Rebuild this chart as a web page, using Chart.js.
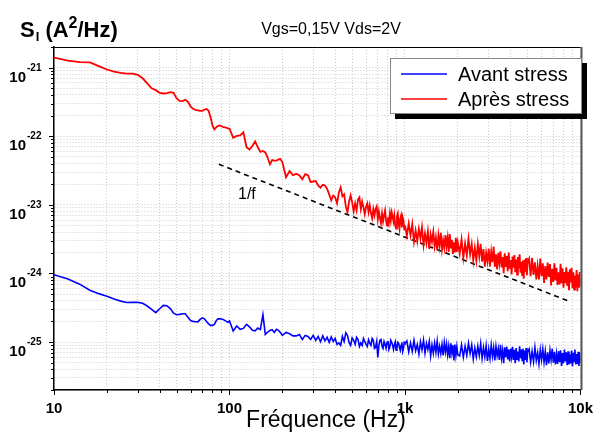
<!DOCTYPE html>
<html>
<head>
<meta charset="utf-8">
<script src="https://cdn.jsdelivr.net/npm/chart.js@4.4.1/dist/chart.umd.min.js"></script>
<style>
  html, body { margin: 0; padding: 0; background: #fff; }
  #wrap { width: 603px; height: 435px; }
</style>
</head>
<body>
<div id="wrap"><canvas id="psd" width="603" height="435"></canvas></div>
<script>
// Fréquences (Hz) communes aux deux spectres
const freq = [
  10, 12, 14, 16, 18, 20, 22, 24, 26, 28, 30,
  32, 34, 36, 38, 40, 42, 44, 46, 48, 50, 52, 54, 56, 58, 60, 62, 64, 66, 68, 70,
  72, 74, 76, 78, 80, 82, 84, 86, 88, 90, 92, 94, 96, 98, 100,
  105, 110, 115, 120, 125, 130, 135, 140, 145, 150, 155, 160, 165, 170, 175, 180, 185, 190, 195, 200,
  210, 220, 230, 240, 250, 260, 270, 280, 290, 300, 310, 320, 330, 340, 350, 360, 370, 380, 390, 400,
  410, 420, 430, 440, 450, 460, 470, 480, 490, 500, 510, 520, 530, 540, 550, 560, 570, 580, 590, 600,
  610, 620, 630, 640, 650, 660, 670, 680, 690, 700, 710, 720, 730, 740, 750, 760, 770, 780, 790, 800,
  810, 820, 830, 840, 850, 860, 870, 880, 890, 900, 910, 920, 930, 940, 950, 960, 970, 980, 990, 1000,
  1025, 1050, 1075, 1100, 1125, 1150, 1175, 1200, 1225, 1250, 1275, 1300, 1325, 1350, 1375, 1400,
  1425, 1450, 1475, 1500, 1525, 1550, 1575, 1600, 1625, 1650, 1675, 1700, 1725, 1750, 1775, 1800,
  1825, 1850, 1875, 1900, 1925, 1950, 1975, 2000,
  2050, 2100, 2150, 2200, 2250, 2300, 2350, 2400, 2450, 2500, 2550, 2600, 2650, 2700, 2750, 2800,
  2850, 2900, 2950, 3000, 3050, 3100, 3150, 3200, 3250, 3300, 3350, 3400, 3450, 3500, 3550, 3600,
  3650, 3700, 3750, 3800, 3850, 3900, 3950, 4000, 4050, 4100, 4150, 4200, 4250, 4300, 4350, 4400,
  4450, 4500, 4550, 4600, 4650, 4700, 4750, 4800, 4850, 4900, 4950, 5000,
  5100, 5200, 5300, 5400, 5500, 5600, 5700, 5800, 5900, 6000, 6100, 6200, 6300, 6400, 6500, 6600,
  6700, 6800, 6900, 7000, 7100, 7200, 7300, 7400, 7500, 7600, 7700, 7800, 7900, 8000, 8100, 8200,
  8300, 8400, 8500, 8600, 8700, 8800, 8900, 9000, 9100, 9200, 9300, 9400, 9500, 9600, 9700, 9800,
  9900, 10000
];

// S_I (A²/Hz) avant stress
const avantStress = [
  9.6e-25, 8.3e-25, 6.98e-25, 5.69e-25, 5.08e-25, 4.67e-25, 4.24e-25, 3.95e-25, 3.77e-25, 3.80e-25, 3.79e-25,
  3.68e-25, 3.35e-25, 2.99e-25, 2.69e-25, 3.06e-25, 3.43e-25, 3.39e-25, 3.08e-25, 2.64e-25, 2.50e-25,
  2.53e-25, 2.58e-25, 2.58e-25, 2.29e-25, 2.06e-25, 2.00e-25, 1.98e-25, 1.97e-25, 2.14e-25, 2.25e-25,
  2.18e-25, 2.00e-25, 1.84e-25, 1.75e-25, 1.75e-25, 1.81e-25, 2.04e-25, 2.18e-25, 2.19e-25, 2.17e-25,
  2.14e-25, 2.07e-25, 2.00e-25, 1.94e-25, 2.04e-25,
  1.45e-25, 1.72e-25, 1.53e-25, 1.58e-25, 1.81e-25, 1.67e-25, 1.48e-25, 1.46e-25, 1.60e-25, 1.52e-25,
  2.51e-25, 1.29e-25, 1.40e-25, 1.48e-25, 1.51e-25, 1.38e-25, 1.53e-25, 1.48e-25, 1.38e-25, 1.25e-25,
  1.38e-25, 1.32e-25, 1.23e-25, 1.23e-25, 1.29e-25, 1.09e-25, 1.25e-25, 1.21e-25, 1.09e-25, 1.25e-25,
  1.06e-25, 1.21e-25, 1.01e-25, 1.23e-25, 1.04e-25, 1.17e-25, 9.9e-26, 1.19e-25, 1.02e-25, 1.13e-25,
  9.25e-26, 9.7e-26, 8.95e-26, 1.21e-25, 1.02e-25, 1.36e-25, 1.25e-25, 9.9e-26, 8.95e-26, 1.15e-25,
  1.06e-25, 9.25e-26, 1.17e-25, 1.09e-25, 8.65e-26, 9.7e-26, 8.95e-26, 1.13e-25, 1.02e-25, 9.25e-26,
  8.65e-26, 1.08e-25, 9.6e-26, 8.95e-26, 1.13e-25, 1.06e-25, 8.1e-26, 8.4e-26, 1.02e-25, 5.98e-26,
  8.95e-26, 1.06e-25, 1.09e-25, 8.65e-26, 8.1e-26, 1.02e-25, 9.25e-26, 8.1e-26, 9.9e-26, 1.04e-25,
  7.8e-26, 8.5e-26, 1.06e-25, 9.9e-26, 8.95e-26, 7.8e-26, 9.25e-26, 1.01e-25, 7.6e-26, 8.4e-26,
  9.9e-26, 9.6e-26, 8.4e-26, 7.6e-26, 8.95e-26, 9.9e-26, 7.3e-26, 8.1e-26, 9.9e-26, 9.6e-26,
  1.04e-25, 7.2e-26, 9.7e-26, 7.3e-26, 1.06e-25, 7.5e-26, 9.2e-26, 6.7e-26, 1.01e-25, 7.7e-26,
  1.07e-25, 6.9e-26, 9.6e-26, 7.8e-26, 1.02e-25, 6.3e-26, 9.1e-26, 6.9e-26, 9.7e-26, 7.1e-26,
  1.03e-25, 6.7e-26, 8.7e-26, 6.8e-26, 9.2e-26, 6.4e-26, 9.8e-26, 7.2e-26, 9.4e-26, 6.5e-26,
  8.7e-26, 5.8e-26, 9.6e-26, 6.9e-26, 9.0e-26, 5.4e-26, 9.2e-26, 6.4e-26, 8.6e-26, 6.5e-26,
  6.3e-26, 9.1e-26, 6.0e-26, 8.7e-26, 6.4e-26, 9.6e-26, 6.8e-26, 9.1e-26, 5.7e-26, 8.2e-26,
  6.1e-26, 8.7e-26, 6.4e-26, 9.5e-26, 5.8e-26, 8.3e-26, 6.1e-26, 8.8e-26, 5.3e-26, 7.9e-26,
  5.8e-26, 9.0e-26, 6.2e-26, 8.3e-26, 5.4e-26, 8.6e-26, 6.3e-26, 8.0e-26, 5.5e-26, 9.1e-26,
  5.8e-26, 7.6e-26, 4.9e-26, 8.4e-26, 6.0e-26, 8.6e-26, 5.6e-26, 7.8e-26, 5.2e-26, 8.0e-26,
  6.1e-26, 8.5e-26, 5.5e-26, 7.7e-26, 4.9e-26, 8.2e-26, 5.6e-26, 7.3e-26, 5.2e-26, 8.7e-26,
  5.8e-26, 7.8e-26, 5.4e-26, 8.0e-26, 4.7e-26, 7.5e-26, 5.5e-26, 8.2e-26, 5.1e-26, 7.2e-26,
  7.9e-26, 5.1e-26, 7.3e-26, 5.2e-26, 8.3e-26, 5.4e-26, 7.0e-26, 4.8e-26, 7.7e-26, 5.5e-26,
  7.9e-26, 5.1e-26, 7.3e-26, 4.6e-26, 7.1e-26, 4.9e-26, 7.5e-26, 5.5e-26, 8.0e-26, 5.0e-26,
  7.2e-26, 4.7e-26, 6.7e-26, 4.8e-26, 7.4e-26, 5.1e-26, 7.6e-26, 4.5e-26, 6.9e-26, 4.9e-26,
  7.8e-26, 5.2e-26, 7.1e-26, 4.6e-26, 7.3e-26, 4.7e-26, 6.6e-26, 4.9e-26, 7.5e-26, 4.4e-26,
  7.0e-26, 5.2e-26, 7.8e-26, 4.7e-26, 6.7e-26, 4.8e-26, 7.2e-26, 4.5e-26, 7.0e-26, 5.0e-26
];

// S_I (A²/Hz) après stress
const apresStress = [
  1.40e-21, 1.27e-21, 1.20e-21, 1.19e-21, 1.05e-21, 9.4e-22, 8.75e-22, 8.4e-22, 8.2e-22, 8.2e-22, 7.85e-22,
  7.0e-22, 5.9e-22, 5.0e-22, 4.7e-22, 4.3e-22, 4.2e-22, 4.25e-22, 4.4e-22, 4.3e-22, 3.56e-22,
  3.28e-22, 3.25e-22, 3.40e-22, 3.17e-22, 2.73e-22, 2.51e-22, 2.43e-22, 2.39e-22, 2.35e-22, 2.35e-22,
  2.45e-22, 2.50e-22, 2.35e-22, 1.89e-22, 1.44e-22, 1.26e-22, 1.35e-22, 1.42e-22, 1.44e-22, 1.40e-22,
  1.37e-22, 1.35e-22, 1.33e-22, 1.30e-22, 1.29e-22,
  9.5e-23, 1.01e-22, 1.03e-22, 1.14e-22, 6.9e-23, 6.4e-23, 7.2e-23, 8.4e-23, 6.9e-23, 5.9e-23,
  6.1e-23, 5.8e-23, 4.9e-23, 3.9e-23, 4.5e-23, 4.4e-23, 4.4e-23, 4.6e-23, 4.65e-23, 4.2e-23,
  2.52e-23, 3.1e-23, 2.7e-23, 2.83e-23, 2.7e-23, 2.35e-23, 2.8e-23, 2.7e-23, 2.15e-23, 2.19e-23,
  2.22e-23, 1.92e-23, 1.78e-23, 1.96e-23, 1.92e-23, 1.71e-23, 1.42e-23, 1.16e-23, 1.37e-23, 1.29e-23,
  1.05e-23, 1.52e-23, 1.80e-23, 1.33e-23, 1.42e-23, 9.5e-24, 7.8e-24, 1.11e-23, 1.37e-23, 1.09e-23,
  8.05e-24, 1.05e-23, 8.3e-24, 1.20e-23, 1.29e-23, 8.7e-24, 1.12e-23, 9.2e-24, 7.3e-24, 9.35e-24,
  1.05e-23, 7.8e-24, 9.8e-24, 7.6e-24, 6.35e-24, 8.6e-24, 7.0e-24, 8.7e-24, 9.5e-24, 6.15e-24,
  8.05e-24, 6.45e-24, 5.4e-24, 7.5e-24, 5.75e-24, 7.0e-24, 8.3e-24, 5.95e-24, 5.0e-24, 6.6e-24,
  5.55e-24, 7.5e-24, 5.95e-24, 7.8e-24, 6.8e-24, 5.75e-24, 7.0e-24, 5.0e-24, 4.5e-24, 6.8e-24,
  7.5e-24, 5.4e-24, 4.5e-24, 6.35e-24, 7.0e-24, 4.7e-24, 6.6e-24, 5.95e-24, 4.4e-24, 5.0e-24,
  3.55e-24, 5.34e-24, 3.60e-24, 5.25e-24, 2.90e-24, 4.22e-24, 2.94e-24, 4.45e-24, 3.22e-24, 4.71e-24,
  2.60e-24, 3.81e-24, 2.76e-24, 4.09e-24, 2.27e-24, 3.71e-24, 2.91e-24, 4.03e-24, 2.49e-24, 3.33e-24,
  2.20e-24, 3.60e-24, 2.54e-24, 3.91e-24, 2.25e-24, 3.03e-24, 2.36e-24, 3.62e-24, 2.49e-24, 3.33e-24,
  2.06e-24, 3.74e-24, 2.32e-24, 3.10e-24, 1.92e-24, 2.85e-24, 2.02e-24, 3.32e-24, 2.06e-24, 2.85e-24,
  1.95e-24, 3.14e-24, 1.69e-24, 2.73e-24, 1.85e-24, 3.21e-24, 1.90e-24, 2.69e-24, 1.54e-24, 2.35e-24,
  1.55e-24, 2.68e-24, 1.76e-24, 2.69e-24, 1.49e-24, 2.26e-24, 1.26e-24, 1.99e-24, 1.50e-24, 2.28e-24,
  1.27e-24, 2.07e-24, 1.46e-24, 2.47e-24, 1.25e-24, 1.90e-24, 1.14e-24, 2.00e-24, 1.42e-24, 2.10e-24,
  1.22e-24, 1.74e-24, 1.01e-24, 1.96e-24, 1.25e-24, 1.80e-24, 1.08e-24, 2.01e-24, 1.17e-24, 1.57e-24,
  9.7e-25, 1.76e-24, 1.21e-24, 1.85e-24, 1.04e-24, 1.60e-24, 9.6e-25, 1.74e-24, 1.19e-24, 1.90e-24,
  1.03e-24, 1.48e-24, 9.5e-25, 1.55e-24, 8.4e-25, 1.59e-24, 1.06e-24, 1.68e-24, 9.4e-25, 1.44e-24,
  1.64e-24, 9.1e-25, 1.69e-24, 9.5e-25, 1.45e-24, 8.2e-25, 1.28e-24, 8.2e-25, 1.65e-24, 9.1e-25,
  1.40e-24, 7.3e-25, 1.28e-24, 8.2e-25, 1.44e-24, 8.9e-25, 1.37e-24, 6.7e-25, 1.17e-24, 7.5e-25,
  1.40e-24, 7.9e-25, 1.21e-24, 6.8e-25, 1.04e-24, 6.9e-25, 1.38e-24, 7.2e-25, 1.19e-24, 6.2e-25,
  1.05e-24, 7.2e-25, 1.23e-24, 6.6e-25, 1.06e-24, 5.7e-25, 1.15e-24, 7.4e-25, 1.21e-24, 6.1e-25,
  1.04e-24, 5.8e-25, 9.3e-25, 6.2e-25, 1.12e-24, 5.5e-25, 9.6e-25, 6.2e-25, 1.05e-24, 6.5e-25
];

// droite de pente 1/f
const penteF = [87, 8800];
const penteS = [3.9e-23, 3.85e-25];

const xTickText = { 10: '10', 100: '100', 1000: '1k', 10000: '10k' };

const FONT = "'Liberation Sans', Arial, Helvetica, sans-serif";

function isDecade(v) { const e = Math.log10(v); return Math.abs(e - Math.round(e)) < 1e-6; }
function keepWholeMantissa(scale) {
  scale.ticks = scale.ticks.filter(t => {
    const m = t.value / Math.pow(10, Math.floor(Math.log10(t.value) + 1e-9));
    return Math.abs(m - Math.round(m)) < 1e-6;
  });
}

const decor = {
  id: 'decor',
  afterDraw(chart) {
    const { ctx, chartArea: a, scales: { x, y } } = chart;
    ctx.save();

    // graduations (décades plus longues)
    ctx.strokeStyle = '#000'; ctx.lineWidth = 1;
    ctx.beginPath();
    x.ticks.forEach(t => {
      const px = Math.round(x.getPixelForValue(t.value)) + 0.5;
      ctx.moveTo(px, a.bottom); ctx.lineTo(px, a.bottom + (isDecade(t.value) ? 5 : 3));
    });
    y.ticks.forEach(t => {
      const py = Math.round(y.getPixelForValue(t.value)) + 0.5;
      ctx.moveTo(a.left, py); ctx.lineTo(a.left - (isDecade(t.value) ? 5 : 3), py);
    });
    ctx.stroke();

    // cadre haut / droite
    ctx.beginPath(); ctx.moveTo(a.left, a.top + 0.5); ctx.lineTo(a.right, a.top + 0.5); ctx.stroke();
    ctx.strokeStyle = '#555'; ctx.lineWidth = 2;
    ctx.beginPath(); ctx.moveTo(a.right + 1, a.top); ctx.lineTo(a.right + 1, a.bottom); ctx.stroke();

    // étiquettes y : 10^n
    ctx.fillStyle = '#000';
    y.ticks.filter(t => isDecade(t.value)).forEach(t => {
      const py = y.getPixelForValue(t.value);
      const ex = Math.round(Math.log10(t.value));
      ctx.font = 'bold 15px ' + FONT; ctx.textAlign = 'right'; ctx.textBaseline = 'alphabetic';
      ctx.fillText('10', 26, py + 14);
      ctx.font = 'bold 10px ' + FONT; ctx.textAlign = 'left';
      ctx.fillText(String(ex), 27, py + 3);
    });

    // titre axe y : S_I (A²/Hz)
    let cx = 20;
    const seg = (txt, size, base) => { ctx.font = 'bold ' + size + 'px ' + FONT; ctx.fillText(txt, cx, base); cx += ctx.measureText(txt).width; };
    ctx.textAlign = 'left';
    seg('S', 22, 37); cx += 1; seg('I', 13, 41); seg(' (A', 22, 37); seg('2', 16, 28); seg('/Hz)', 22, 37);

    // conditions de polarisation
    ctx.font = '16px ' + FONT; ctx.textAlign = 'center';
    ctx.fillText('Vgs=0,15V Vds=2V', 331, 34);

    // titre axe x
    ctx.font = '23px ' + FONT;
    ctx.fillText('Fréquence (Hz)', 326, 427);

    // annotation 1/f
    ctx.font = '16px ' + FONT; ctx.textAlign = 'left';
    ctx.fillText('1/f', 238, 199);

    // légende
    const lx = 390, ly = 58, lw = 192, lh = 56;
    ctx.fillStyle = '#000'; ctx.fillRect(lx + 5, ly + 5, lw, lh);
    ctx.fillStyle = '#fff'; ctx.fillRect(lx, ly, lw, lh);
    ctx.strokeStyle = '#888'; ctx.lineWidth = 1; ctx.strokeRect(lx + 0.5, ly + 0.5, lw - 1, lh - 1);
    chart.data.datasets.slice(0, 2).forEach((ds, i) => {
      const yy = ly + 16 + i * 25;
      ctx.strokeStyle = ds.borderColor; ctx.lineWidth = 1.5;
      ctx.beginPath(); ctx.moveTo(401, yy); ctx.lineTo(447, yy); ctx.stroke();
      ctx.fillStyle = '#000'; ctx.font = '20px ' + FONT; ctx.textAlign = 'left';
      ctx.fillText(ds.label, 458, yy + 7);
    });
    ctx.restore();
  }
};

new Chart(document.getElementById('psd'), {
  type: 'line',
  data: {
    datasets: [
      { label: 'Avant stress', data: freq.map((f, i) => ({ x: f, y: avantStress[i] })),
        borderColor: '#0000ff', borderWidth: 1.6, pointRadius: 0, tension: 0 },
      { label: 'Après stress', data: freq.map((f, i) => ({ x: f, y: apresStress[i] })),
        borderColor: '#ff0000', borderWidth: 1.8, pointRadius: 0, tension: 0 },
      { label: '1/f', data: penteF.map((f, i) => ({ x: f, y: penteS[i] })),
        borderColor: '#000', borderWidth: 1.6, borderDash: [5, 4], pointRadius: 0 }
    ]
  },
  options: {
    responsive: false, animation: false, devicePixelRatio: 1,
    layout: { padding: { top: 47, right: 14, left: 0, bottom: 0 } },
    plugins: { legend: { display: false }, tooltip: { enabled: false } },
    scales: {
      x: {
        type: 'logarithmic', min: 10, max: 10000,
        afterFit: s => { s.height = 45; },
        afterBuildTicks: keepWholeMantissa,
        grid: { color: '#cccccc', lineWidth: 1, drawTicks: false },
        border: { color: '#000', width: 1.5, dash: [1, 2] },
        ticks: {
          autoSkip: false, maxRotation: 0, padding: 10, color: '#000',
          font: { family: FONT, size: 15, weight: 'bold' },
          callback: v => xTickText[Math.round(v)] || ''
        }
      },
      y: {
        type: 'logarithmic', min: 2e-26, max: 2e-21,
        afterFit: s => { s.width = 54; },
        afterBuildTicks: keepWholeMantissa,
        grid: { color: '#cccccc', lineWidth: 1, drawTicks: false },
        border: { color: '#000', width: 1.5, dash: [1, 2] },
        ticks: { display: false }
      }
    }
  },
  plugins: [decor]
});
</script>
</body>
</html>
